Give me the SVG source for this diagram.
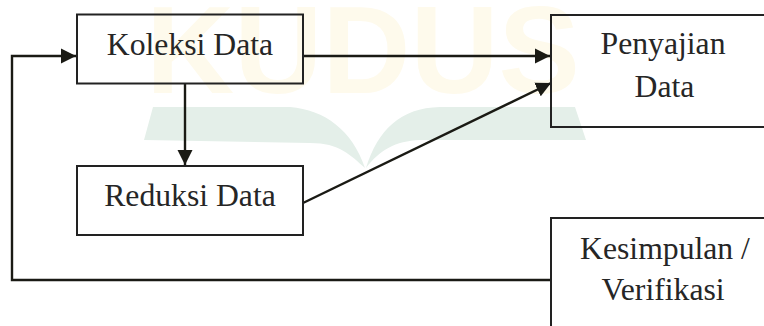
<svg xmlns="http://www.w3.org/2000/svg" width="764" height="326" viewBox="0 0 764 326">
<style>
.b{fill:none;stroke:#222;stroke-width:2}
.c{fill:none;stroke:#1a1a14;stroke-width:2.400}
.t{font-family:"Liberation Serif","Times New Roman",serif;font-size:31.700px;fill:#262626;text-anchor:middle}
.w{font-family:"Liberation Sans",Arial,sans-serif;font-weight:700;font-size:124px;fill:#fefaec}
</style>
<defs><marker id="a" markerUnits="userSpaceOnUse" markerWidth="16" markerHeight="16" refX="15" refY="8" orient="auto"><path d="M0,0.500L15,8L0,15.500Z" fill="#1a1a14"/></marker></defs>
<rect width="764" height="326" fill="#fff"/>
<g id="watermark">
<text class="w" x="146" y="93" textLength="434" lengthAdjust="spacingAndGlyphs">KUDUS</text>
<path d="M153,107H290C325,110 352,130 365,168C350,155 340,143 310,143L144,140Z" fill="#e4efe9"/>
<path d="M366,168C378,130 400,108 440,107H575L586,140H420C395,141 380,150 366,168Z" fill="#e4efe9"/>
</g>
<g id="connectors">
<path class="c" d="M303,56H550" marker-end="url(#a)"/>
<path class="c" d="M185,84V165" marker-end="url(#a)"/>
<path class="c" d="M303,203L551,83" marker-end="url(#a)"/>
<path class="c" d="M551,280H12V56H76" marker-end="url(#a)"/>
</g>
<g id="koleksi"><rect class="b" x="77" y="14.500" width="226" height="69"/><text class="t" x="190" y="55">Koleksi Data</text></g>
<g id="reduksi"><rect class="b" x="77" y="166" width="226" height="69"/><text class="t" x="190" y="206">Reduksi Data</text></g>
<g id="penyajian"><path class="b" d="M764,15H551V127H764"/><text class="t" x="663" y="54">Penyajian</text><text class="t" x="664.500" y="97">Data</text></g>
<g id="kesimpulan"><path class="b" d="M764,218H551V326"/><text class="t" x="665" y="259">Kesimpulan /</text><text class="t" x="663" y="300">Verifikasi</text></g>
</svg>
